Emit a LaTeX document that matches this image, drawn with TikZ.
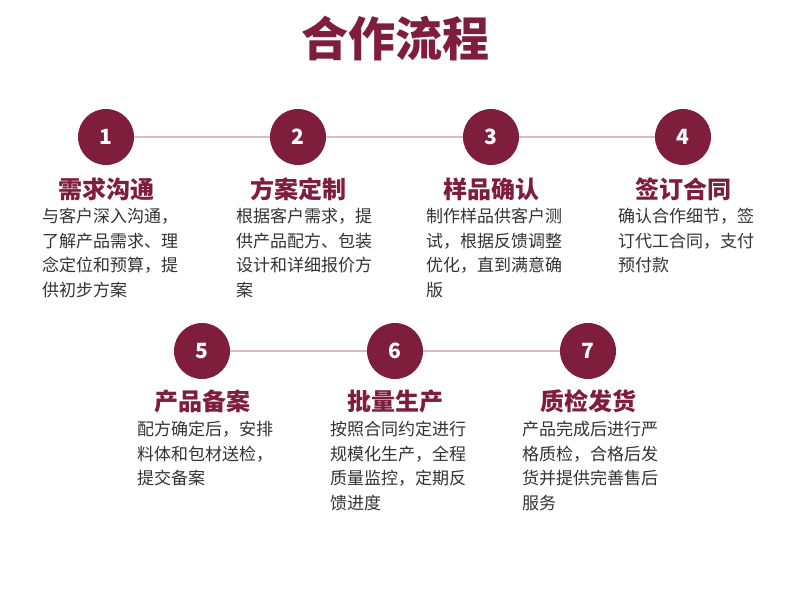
\documentclass[tikz,border=0pt]{standalone}
\usepackage{fontspec}
\setmainfont{Noto Sans CJK SC}
\definecolor{maroon}{HTML}{7E1E3C}
\definecolor{linkpink}{HTML}{DCBAC6}
\definecolor{bodytext}{HTML}{333333}
\tikzset{
  titletext/.style={text=maroon, font=\bfseries\fontsize{47}{47}\selectfont, inner sep=0, anchor=base},
  stepcircle/.style={circle, fill=maroon, minimum size=56pt, inner sep=0, text=white, font=\bfseries\fontsize{21}{21}\selectfont},
  linkline/.style={draw=linkpink, line width=1.6pt},
  heading/.style={text=maroon, font=\bfseries\fontsize{24}{24}\selectfont, inner sep=0, anchor=base},
  bodypara/.style={text=bodytext, font=\fontsize{17}{24.5}\selectfont, inner sep=0, anchor=north west, align=left}
}
\begin{document}
\begin{tikzpicture}[x=1pt,y=-1pt]
\useasboundingbox[fill=white] (0,0) rectangle (790,589);
\node[titletext] (title) at (395,56) {合作流程};
% row 1
\node[stepcircle] (c1) at (106,137) {1};
\node[stepcircle] (c2) at (298,137) {2};
\node[stepcircle] (c3) at (491,137) {3};
\node[stepcircle] (c4) at (683,137) {4};
\draw[linkline] (c1) -- (c2);
\draw[linkline] (c2) -- (c3);
\draw[linkline] (c3) -- (c4);
\node[heading] (h1) at (106,198) {需求沟通};
\node[heading] (h2) at (298,198) {方案定制};
\node[heading] (h3) at (491,198) {样品确认};
\node[heading] (h4) at (683,198) {签订合同};
\node[bodypara] (b1) at (42,208) {与客户深入沟通，\\了解产品需求、理\\念定位和预算，提\\供初步方案};
\node[bodypara] (b2) at (236,208) {根据客户需求，提\\供产品配方、包装\\设计和详细报价方\\案};
\node[bodypara] (b3) at (426,208) {制作样品供客户测\\试，根据反馈调整\\优化，直到满意确\\版};
\node[bodypara] (b4) at (618,208) {确认合作细节，签\\订代工合同，支付\\预付款};
% row 2
\node[stepcircle] (c5) at (202,351) {5};
\node[stepcircle] (c6) at (395,351) {6};
\node[stepcircle] (c7) at (588,351) {7};
\draw[linkline] (c5) -- (c6);
\draw[linkline] (c6) -- (c7);
\node[heading] (h5) at (202,410) {产品备案};
\node[heading] (h6) at (395,410) {批量生产};
\node[heading] (h7) at (588,410) {质检发货};
\node[bodypara] (b5) at (137,421) {配方确定后，安排\\料体和包材送检，\\提交备案};
\node[bodypara] (b6) at (330,421) {按照合同约定进行\\规模化生产，全程\\质量监控，定期反\\馈进度};
\node[bodypara] (b7) at (522,421) {产品完成后进行严\\格质检，合格后发\\货并提供完善售后\\服务};
\end{tikzpicture}
\end{document}
